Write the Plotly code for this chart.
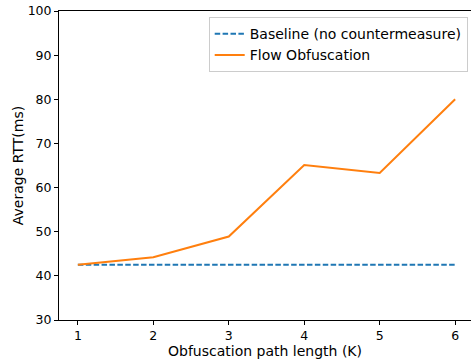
import plotly.graph_objects as go

k_values = [1, 2, 3, 4, 5, 6]
baseline_rtt = [42.5, 42.5, 42.5, 42.5, 42.5, 42.5]
obfuscation_rtt = [42.5, 44.2, 48.9, 65.1, 63.3, 80.0]
x_ticks = [1, 2, 3, 4, 5, 6]
y_ticks = [30, 40, 50, 60, 70, 80, 90, 100]

fig = go.Figure()
fig.add_trace(go.Scatter(x=k_values, y=baseline_rtt, mode="lines",
                         name="Baseline (no countermeasure)",
                         line=dict(color="#1f77b4", width=2, dash="5.5px,2.4px")))
fig.add_trace(go.Scatter(x=k_values, y=obfuscation_rtt, mode="lines",
                         name="Flow Obfuscation",
                         line=dict(color="#ff7f0e", width=2)))

font = "DejaVu Sans"
fig.update_layout(
    width=471, height=360,
    margin=dict(l=59, r=0, t=11, b=40, autoexpand=False),
    paper_bgcolor="white", plot_bgcolor="white",
    font=dict(family=font, size=13, color="black"),
    showlegend=True,
    legend=dict(x=0.992, y=0.98, xanchor="right", yanchor="top",
                bgcolor="rgba(255,255,255,0.8)", bordercolor="#cccccc", borderwidth=1,
                font=dict(family=font, size=14, color="#000000"),
                tracegroupgap=0),
    xaxis=dict(range=[0.75, 6.21], tickvals=x_ticks, showgrid=False, zeroline=False,
               showline=True, linecolor="black", linewidth=1, mirror=True,
               ticks="outside", ticklen=4, tickwidth=1, tickcolor="black",
               tickfont=dict(size=12.5), automargin=True,
               title=dict(text="Obfuscation path length (K)", font=dict(size=14), standoff=3)),
    yaxis=dict(range=[30, 100], tickvals=y_ticks, showgrid=False, zeroline=False,
               showline=True, linecolor="black", linewidth=1,
               ticks="outside", ticklen=4, tickwidth=1, tickcolor="black",
               tickfont=dict(size=12.5), automargin=True,
               title=dict(text="Average RTT(ms)", font=dict(size=14), standoff=0)),
)

fig.write_html("out.html", config={"displayModeBar": False},
               post_script="document.body.style.margin='0';")
